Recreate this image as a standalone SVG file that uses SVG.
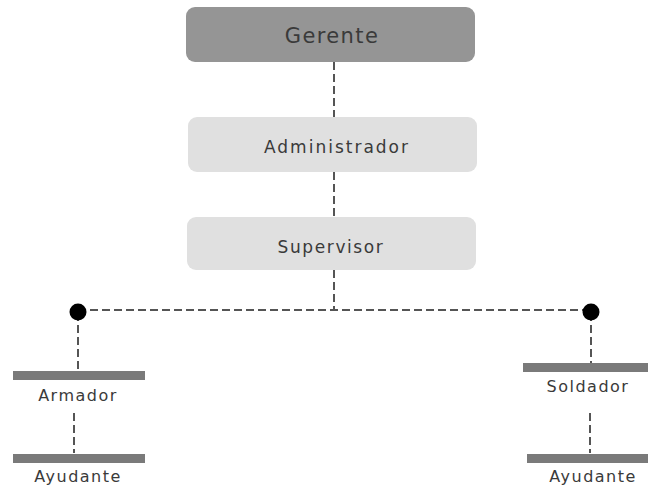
<svg xmlns="http://www.w3.org/2000/svg" width="648" height="487" viewBox="0 0 648 487">
<style>
.box{stroke:none}
.t{font-family:"DejaVu Sans","Open Sans",sans-serif;fill:#3a3a3a;text-anchor:middle;dominant-baseline:central}
.s{font-size:16px;letter-spacing:1.5px}
.c{fill:none;stroke:#555;stroke-width:2;stroke-dasharray:8 4}
.bar{fill:#7a7a7a}
</style>
<rect width="648" height="487" fill="#fff"/>
<g id="connectors">
<path class="c" d="M334 62V117M334 172V217M334 270V310M78 310H591M78 313V371M74 413V453M591 313V363M590 413V453"/>
<circle cx="78" cy="312" r="8.5" fill="#000"/>
<circle cx="591" cy="312" r="8.5" fill="#000"/>
</g>
<g id="gerente">
<rect class="box" x="186" y="7" width="289" height="55" rx="9" fill="#959595"/>
<text class="t" x="332" y="36" font-size="21" letter-spacing="1.4">Gerente</text>
</g>
<g id="administrador">
<rect class="box" x="188" y="117" width="289" height="55" rx="9" fill="#e0e0e0"/>
<text class="t" x="337" y="147" font-size="17" letter-spacing="2">Administrador</text>
</g>
<g id="supervisor">
<rect class="box" x="187" y="217" width="289" height="53" rx="9" fill="#e0e0e0"/>
<text class="t" x="331" y="247" font-size="17" letter-spacing="1.6">Supervisor</text>
</g>
<g id="armador">
<rect class="bar" x="13" y="371" width="132" height="9"/>
<text class="t s" x="78" y="395">Armador</text>
</g>
<g id="ayudante1">
<rect class="bar" x="13" y="454" width="132" height="9"/>
<text class="t s" x="78" y="476" letter-spacing="0.9">Ayudante</text>
</g>
<g id="soldador">
<rect class="bar" x="523" y="363" width="125" height="9"/>
<text class="t s" x="588" y="386">Soldador</text>
</g>
<g id="ayudante2">
<rect class="bar" x="527" y="454" width="121" height="9"/>
<text class="t s" x="593" y="476" letter-spacing="0.9">Ayudante</text>
</g>
</svg>
